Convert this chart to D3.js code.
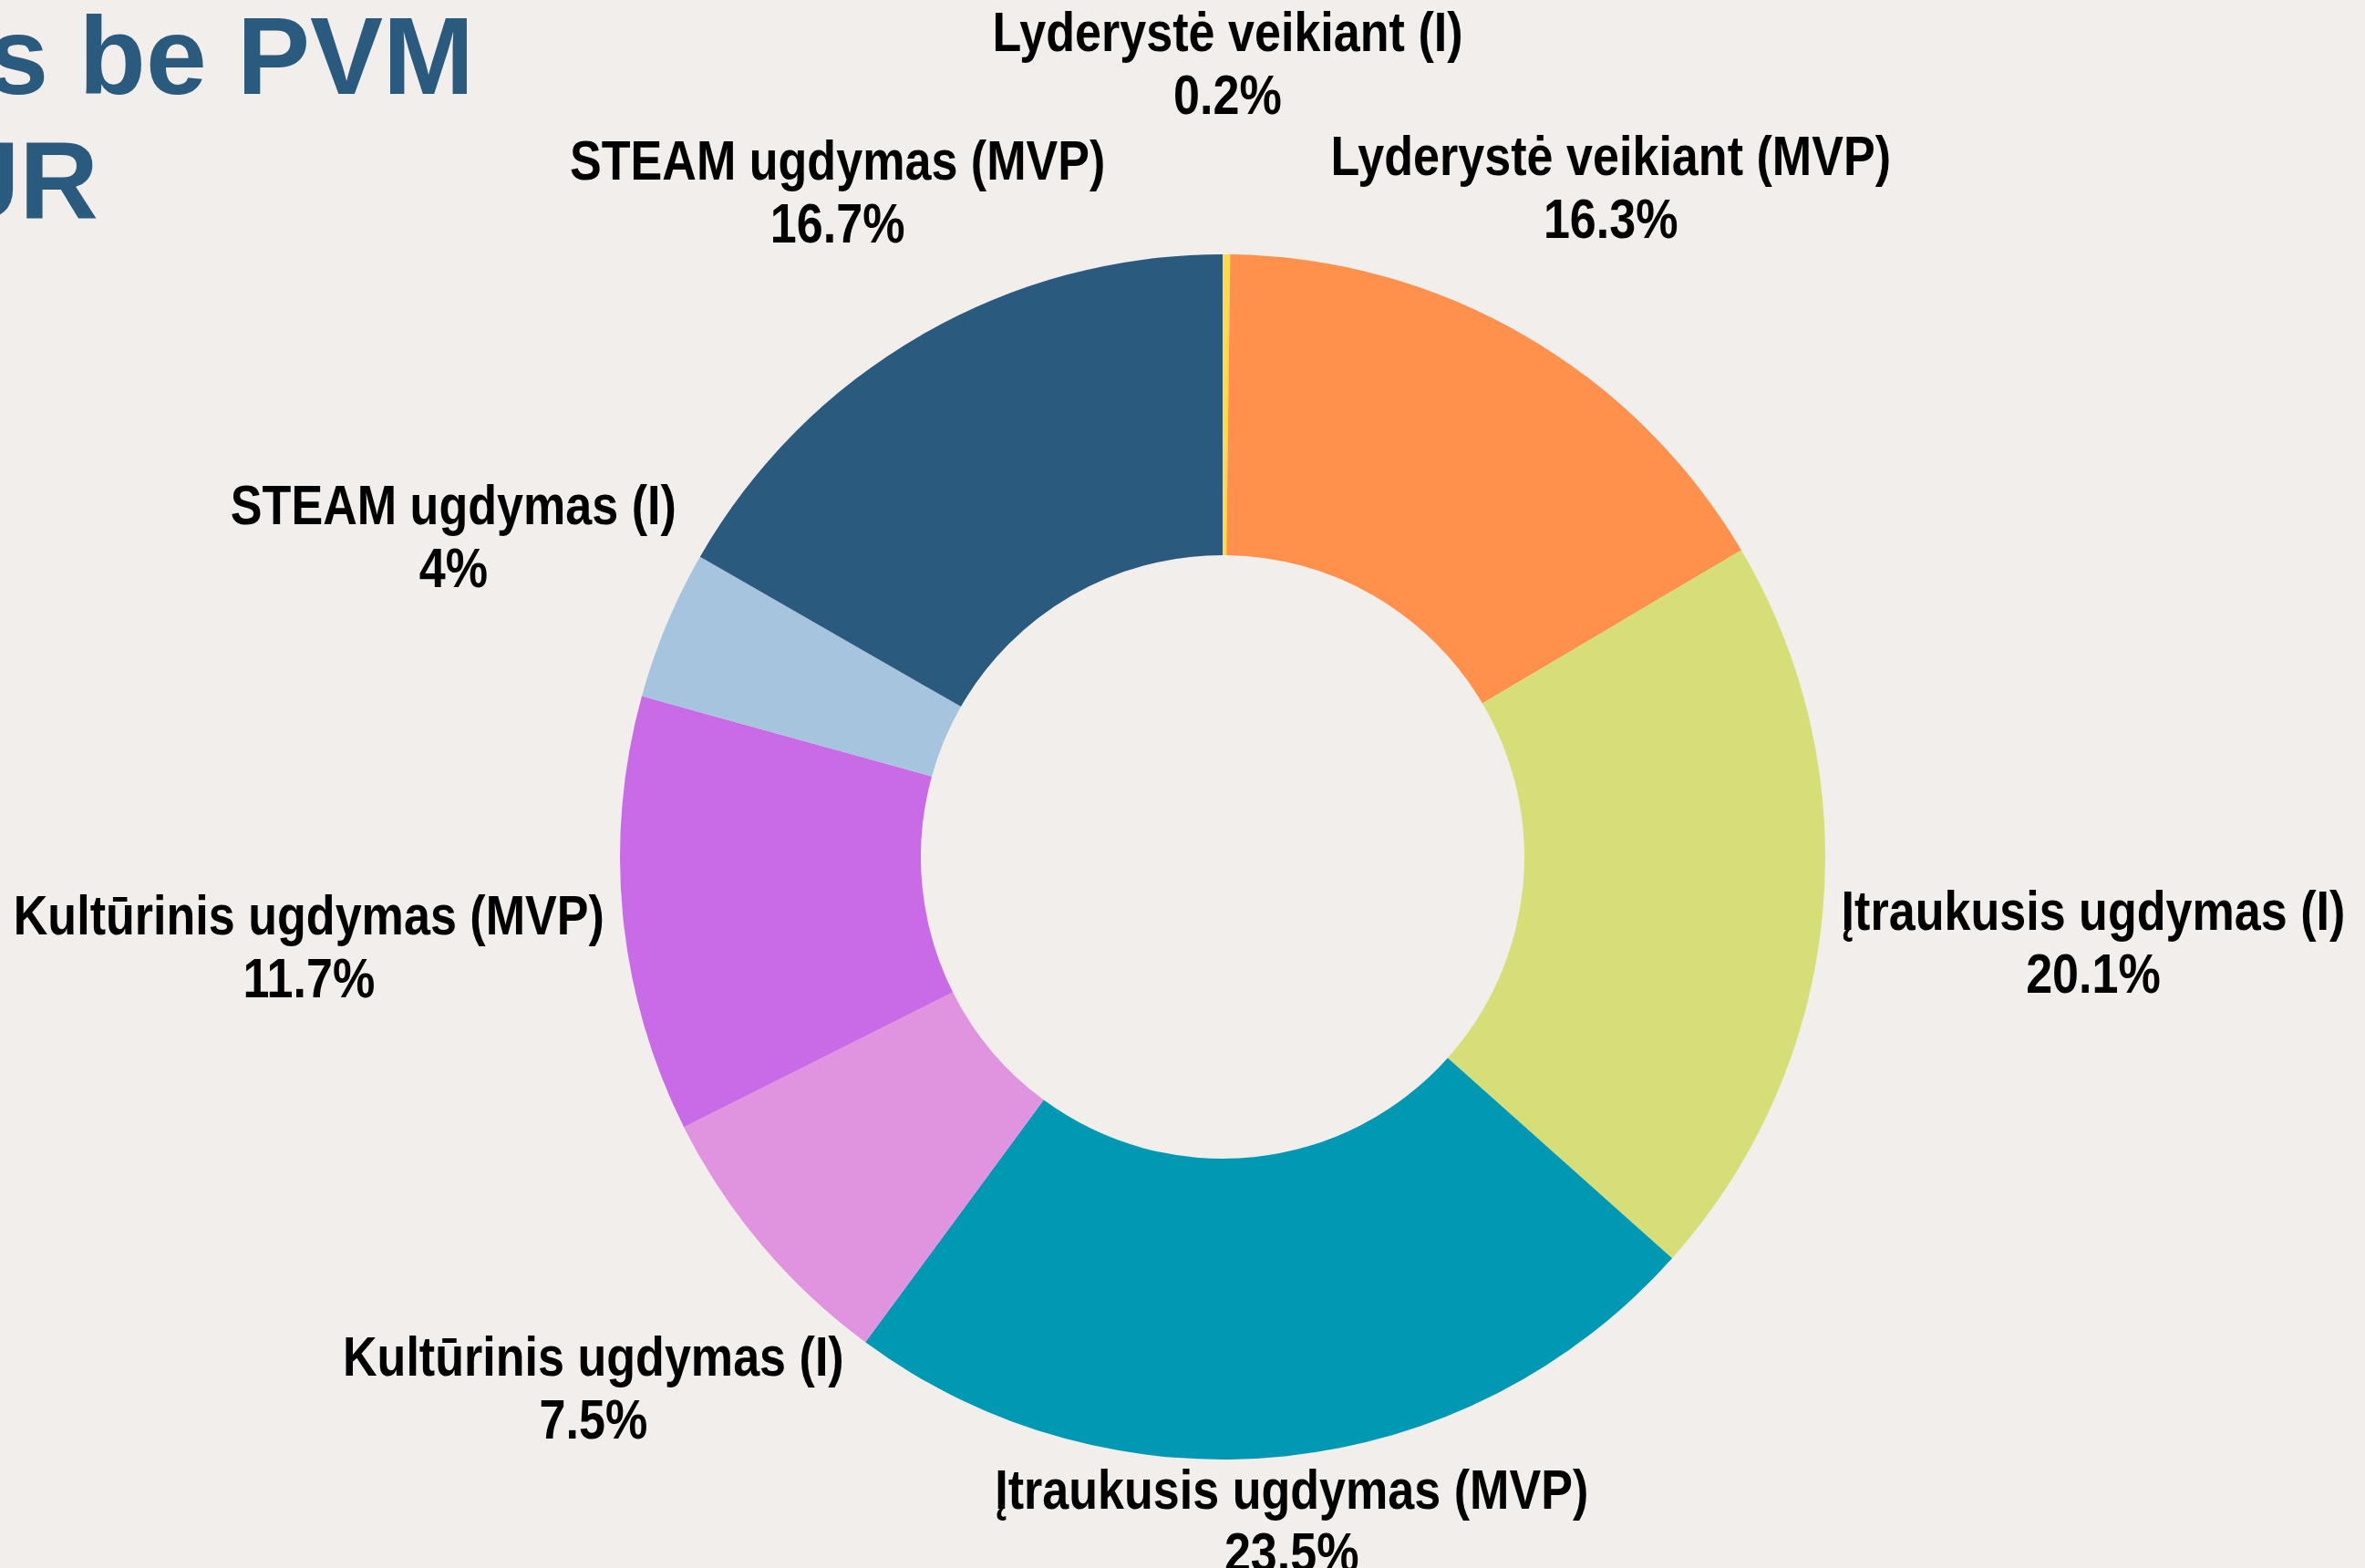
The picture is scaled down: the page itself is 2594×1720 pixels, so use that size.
<!DOCTYPE html>
<html>
<head>
<meta charset="utf-8">
<script src="https://cdn.jsdelivr.net/npm/d3@7"></script>
<style>
  body { margin: 0; background: #f2eeeb; }
  svg { display: block; }
</style>
</head>
<body>
<script>
const WIDTH = 2594;
const HEIGHT = 1720;
const CX = 1341;
const CY = 940;
const R_OUT = 661;
const R_IN = 331;
const LABEL_R = 683;
const LINE = 69;
const FONT = '"Liberation Sans", Arial, sans-serif';
const SQUEEZE = 0.84;   // the original lettering is narrower than Liberation Sans

// clockwise from 12 o'clock
const categories = [
	'Lyderystė veikiant (I)',
	'Lyderystė veikiant (MVP)',
	'Įtraukusis ugdymas (I)',
	'Įtraukusis ugdymas (MVP)',
	'Kultūrinis ugdymas (I)',
	'Kultūrinis ugdymas (MVP)',
	'STEAM ugdymas (I)',
	'STEAM ugdymas (MVP)'
];
const shares = [0.2, 16.3, 20.1, 23.5, 7.5, 11.7, 4, 16.7];
const sliceColors = ['#ffd84d', '#ff914d', '#d5de77', '#0098b3', '#e094df', '#c96be6', '#a6c4de', '#2b5a7f'];
const titleLines = ['s be PVM', 'UR'];

var drawChart = function(){
	var svg = d3.select('body')
		.append('svg')
		.attr('width', WIDTH)
		.attr('height', HEIGHT);

	svg.append('rect')
		.attr('width', WIDTH)
		.attr('height', HEIGHT)
		.attr('fill', '#f2eeeb');

	// title is cropped at the left edge in the original, so anchor its right end
	var title = svg.append('g')
		.attr('font-family', FONT)
		.attr('font-weight', 'bold')
		.attr('font-size', 120)
		.attr('fill', '#2b5a7f')
		.attr('text-anchor', 'end');
	title.append('text').attr('x', 520).attr('y', 103).text(titleLines[0]);
	title.append('text').attr('x', 108).attr('y', 240).text(titleLines[1]);

	var pie = d3.pie().sort(null).value(function(d){ return d; });
	var arc = d3.arc().innerRadius(R_IN).outerRadius(R_OUT);
	var arcs = pie(shares);

	var chart = svg.append('g')
		.attr('transform', 'translate(' + CX + ',' + CY + ')');

	chart.selectAll('path')
		.data(arcs)
		.enter()
		.append('path')
		.attr('d', arc)
		.attr('fill', function(d, i){ return sliceColors[i]; });

	var labels = chart.append('g')
		.attr('font-family', FONT)
		.attr('font-weight', 'bold')
		.attr('font-size', 62)
		.attr('fill', '#000')
		.attr('text-anchor', 'middle');

	var items = arcs.map(function(a, i){
		var g = labels.append('g');
		g.append('text')
			.attr('transform', 'translate(0,' + (-LINE/2) + ') scale(' + SQUEEZE + ',1)')
			.attr('dominant-baseline', 'central')
			.text(categories[i]);
		g.append('text')
			.attr('transform', 'translate(0,' + (LINE/2) + ') scale(' + SQUEEZE + ',1)')
			.attr('dominant-baseline', 'central')
			.text(shares[i] + '%');
		var bb = g.node().getBBox();
		return {g: g, mid: (a.startAngle + a.endAngle)/2, w: bb.width, h: bb.height, v: shares[i]};
	});

	// place big slices first, push small ones outward if they collide
	var placed = [];
	items.slice().sort(function(a, b){ return b.v - a.v; }).forEach(function(it){
		var s = Math.sin(it.mid), c = Math.cos(it.mid);
		var dist = LABEL_R + Math.abs(s)*it.w/2 + Math.abs(c)*15;
		var box;
		for (var k = 0; k < 200; k++) {
			var x = dist*s, y = -dist*c;
			box = {x0: x - it.w/2, x1: x + it.w/2, y0: y - it.h/2, y1: y + it.h/2, x: x, y: y};
			var hit = placed.some(function(p){
				return box.x0 < p.x1 && box.x1 > p.x0 && box.y0 < p.y1 - 4 && box.y1 > p.y0 + 4;
			});
			if (!hit) break;
			dist += 4;
		}
		placed.push(box);
		it.g.attr('transform', 'translate(' + box.x + ',' + box.y + ')');
	});
}

window.onload = function(){
	drawChart();
}
</script>
</body>
</html>
